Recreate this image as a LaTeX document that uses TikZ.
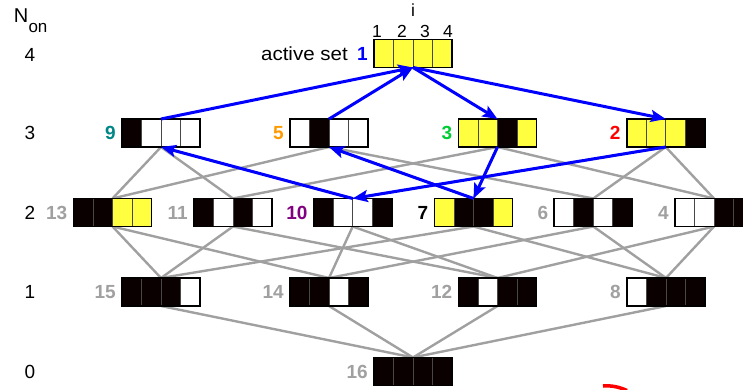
\documentclass[tikz,border=0pt]{standalone}
\usepackage{fontspec}
\setmainfont{Liberation Sans}
\newfontfamily\widefont[FakeStretch=1.08]{Liberation Sans}
\usetikzlibrary{arrows.meta,backgrounds}

\definecolor{cyel}{RGB}{255,255,64}
\definecolor{cblk}{RGB}{10,0,0}
\definecolor{cgray}{RGB}{160,160,160}
\definecolor{cteal}{RGB}{0,134,134}
\definecolor{corange}{RGB}{255,153,0}
\definecolor{cgreen}{RGB}{0,204,51}
\definecolor{cpurple}{RGB}{128,0,128}
\definecolor{cblue}{RGB}{0,0,255}

\tikzset{
  sbox/.style={draw=black, line width=1.8pt, minimum width=78pt, minimum height=28pt, inner sep=0pt, outer sep=0pt},
  divline/.style={draw=black!72, line width=0.8pt},
  txt/.style={font=\fontsize{19}{22}\selectfont, inner sep=0pt},
  idx/.style={font=\fontsize{17.5}{20}\selectfont, inner sep=0pt},
  lab/.style={font=\fontsize{19}{22}\selectfont\bfseries, inner sep=0pt, anchor=east},
  hasse/.style={draw=cgray, line width=2.4pt},
  walk/.style={draw=cblue, line width=3pt, -{Stealth[length=15pt,width=12pt,inset=3pt]}},
}

% state box: name, centre, four cell colours, label colour, label text
\newcommand\statebox[8]{%
  \begin{scope}[shift={(#2)}]
    \fill[#3] (-39,-14) rectangle (-19.5,14);
    \fill[#4] (-19.5,-14) rectangle (0,14);
    \fill[#5] (0,-14) rectangle (19.5,14);
    \fill[#6] (19.5,-14) rectangle (39,14);
    \draw[divline] (-19.5,-14) -- (-19.5,14) (0,-14) -- (0,14) (19.5,-14) -- (19.5,14);
  \end{scope}
  \node[sbox] (#1) at (#2) {};
  \node[lab, text=#7] (#1l) at ([xshift=-6pt]#1.west) {#8};
}

\begin{document}
\begin{tikzpicture}[x=1pt,y=-1pt]
\useasboundingbox (0,0) rectangle (743,390);
\clip (0,0) rectangle (743,390);

% axis labels
\node[inner sep=0pt, font=\fontsize{20}{22}\selectfont] (nN) at (21,16) {N};
\node[inner sep=0pt, font=\fontsize{17}{19}\selectfont] (non) at (38,28) {on};
\node[txt] (r4) at (30,54.5) {4};
\node[txt] (r3) at (30,133) {3};
\node[txt] (r2) at (30,212.5) {2};
\node[txt] (r1) at (30,292) {1};
\node[txt] (r0) at (30,372) {0};

% index of the cells
\node[idx] (ii) at (413,10) {i};
\node[idx] (i1) at (377,31) {1};
\node[idx] (i2) at (402,31) {2};
\node[idx] (i3) at (425,31) {3};
\node[idx] (i4) at (448,31) {4};

% states
\statebox{n1}{413,53.5}{cyel}{cyel}{cyel}{cyel}{cblue}{1}
\node[inner sep=0pt, font=\widefont\fontsize{19}{22}\selectfont, anchor=east] (act) at (348,54) {active set};

\statebox{n9}{161,133}{cblk}{white}{white}{white}{cteal}{9}
\statebox{n5}{329,133}{white}{cblk}{white}{white}{corange}{5}
\statebox{n3}{497.5,133}{cyel}{cyel}{cblk}{cyel}{cgreen}{3}
\statebox{n2}{665.7,133}{cyel}{cyel}{cyel}{cblk}{red}{2}

\statebox{n13}{112.5,212.5}{cblk}{cblk}{cyel}{cyel}{cgray}{13}
\statebox{n11}{233,212.5}{cblk}{white}{cblk}{white}{cgray}{11}
\statebox{n10}{352.7,212.5}{cblk}{white}{white}{cblk}{cpurple}{10}
\statebox{n7}{473.5,212.5}{cyel}{cblk}{cblk}{cyel}{black}{7}
\statebox{n6}{593.3,212.5}{white}{cblk}{white}{cblk}{cgray}{6}
\statebox{n4}{714,212.5}{white}{white}{cblk}{cblk}{cgray}{4}

\statebox{n15}{161,292}{cblk}{cblk}{cblk}{white}{cgray}{15}
\statebox{n14}{329,292}{cblk}{cblk}{white}{cblk}{cgray}{14}
\statebox{n12}{497.5,292}{cblk}{white}{cblk}{cblk}{cgray}{12}
\statebox{n8}{666,292}{white}{cblk}{cblk}{cblk}{cgray}{8}

\statebox{n16}{413,371.5}{cblk}{cblk}{cblk}{cblk}{cgray}{16}

% subset relations
\begin{scope}[on background layer]
\foreach \a/\b in {9/13,9/11,9/10,5/13,5/7,5/6,3/11,3/7,3/4,2/10,2/6,2/4,
                   13/15,13/14,11/15,11/12,10/14,10/12,7/15,7/8,6/14,6/8,4/12,4/8,
                   15/16,14/16,12/16,8/16}
  \draw[hasse] (n\a.south) -- (n\b.north);
\end{scope}

% walk through the states
\draw[walk] (n9.north) -- (n1.south);
\draw[walk] (n5.north) -- (n1.south);
\draw[walk] (n1.south) -- (n3.north);
\draw[walk] (n1.south) -- (n2.north);
\draw[walk] (n2.south) -- (n10.north);
\draw[walk] (n10.north) -- (n9.south);
\draw[walk] (n3.south) -- (n7.north);
\draw[walk] (n7.north) -- (n5.south);

% red stroke at the lower edge
\draw[red, line width=3.5pt] (603,386) .. controls (612,385.3) and (619,387) .. (627,390.5);
\end{tikzpicture}
\end{document}
